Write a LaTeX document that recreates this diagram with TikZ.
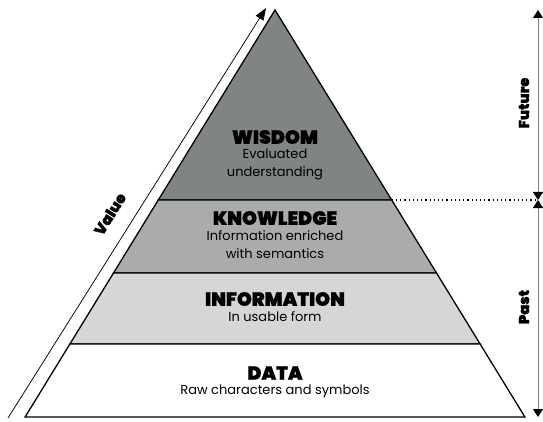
\documentclass[tikz,border=0pt]{standalone}
\usepackage{fontspec}
\setmainfont{Poppins}
\newfontfamily\heavyfont{Poppins Black}[FakeBold=0.8]
\usetikzlibrary{arrows.meta,positioning}

\definecolor{wisdomfill}{RGB}{128,133,131}
\definecolor{knowfill}{RGB}{169,172,171}
\definecolor{infofill}{RGB}{212,215,214}
\definecolor{axisgray}{RGB}{128,128,128}

\tikzset{
  layer/.style={draw=black, line width=1.3pt, line join=miter},
  title/.style={inner sep=0pt, font=\heavyfont\fontsize{19}{21}\selectfont},
  caption/.style={inner sep=0pt, align=center, font=\fontsize{13}{18}\selectfont},
  sidelabel/.style={inner sep=0pt, rotate=90, font=\heavyfont\fontsize{14.5}{16}\selectfont},
  timeaxis/.style={draw=axisgray, line width=1pt, {Triangle[length=8pt,width=10pt,black]}-{Triangle[length=8pt,width=10pt,black]}}
}

\begin{document}
\begin{tikzpicture}[x=1pt,y=1pt,yscale=-1,xscale=1]
\useasboundingbox (0,0) rectangle (543,422);

% corners of the layers
\coordinate (apex) at (275,10);
\coordinate (wl) at (158.3,200); \coordinate (wr) at (391.7,200);
\coordinate (kl) at (113.5,273); \coordinate (kr) at (436.5,273);
\coordinate (il) at (69.9,344);  \coordinate (ir) at (480.1,344);
\coordinate (dl) at (25.1,417);  \coordinate (dr) at (524.9,417);

% Layers
\filldraw [layer, fill=wisdomfill] (apex) -- (wr) -- (wl) -- cycle;
\filldraw [layer, fill=knowfill] (wl) -- (wr) -- (kr) -- (kl) -- cycle;
\filldraw [layer, fill=infofill] (kl) -- (kr) -- (ir) -- (il) -- cycle;
\filldraw [layer, fill=white] (il) -- (ir) -- (dr) -- (dl) -- cycle;

% Text Node
\node [title] (wisdom) at (275,137) {WISDOM};
\node [caption, below=5pt of wisdom] (wisdomtxt) {Evaluated\\understanding};
% Text Node
\node [title] (knowledge) at (275,218) {KNOWLEDGE};
\node [caption, below=5pt of knowledge] (knowtxt) {Information enriched\\with semantics};
% Text Node
\node [title] (information) at (275,299) {INFORMATION};
\node [caption, below=5pt of information] (infotxt) {In usable form};
% Text Node
\node [title] (data) at (275,373) {DATA};
\node [caption, below=5pt of data] (datatxt) {Raw characters and symbols};

% Value arrow
\coordinate (v0) at (8,418);
\coordinate (v1) at (266,8);
\draw [line width=0.75pt, -{Triangle[length=12pt,width=9pt]}] (v0) -- (v1);
\node [inner sep=0pt, rotate=58, font=\heavyfont\fontsize{15}{16}\selectfont] (value) at (110,214) {Value};

% Time axis
\coordinate (ftop) at (538,10);
\coordinate (fmid) at (538,200);
\coordinate (pbot) at (538,417);
\draw [timeaxis] (fmid) -- (ftop);
\draw [timeaxis] (fmid) -- (pbot);
\draw [line width=1.2pt, dash pattern=on 1.2pt off 3pt] (wr) -- (fmid);
\node [sidelabel] (future) at (524,103) {Future};
\node [sidelabel] (past) at (524,307) {Past};

\end{tikzpicture}
\end{document}
